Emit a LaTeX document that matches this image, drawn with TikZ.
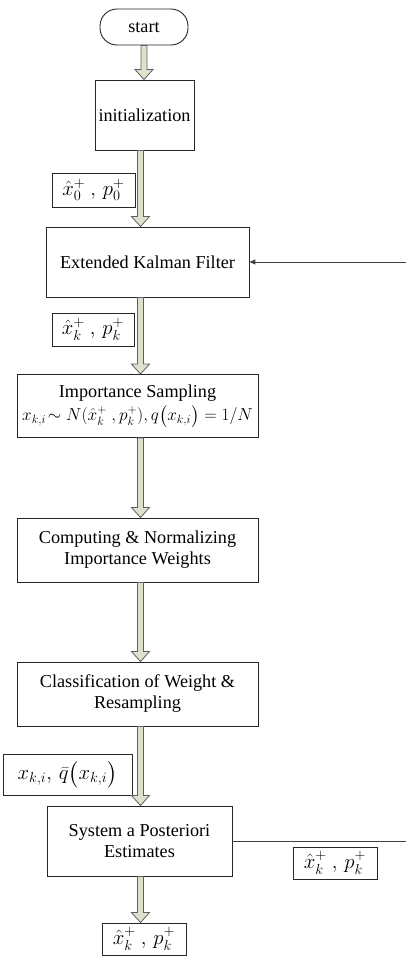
\documentclass[tikz,border=0pt]{standalone}
\usepackage{amsmath,amssymb}
\usepackage{fontspec}
\setmainfont{Liberation Serif}
\usepackage{xcolor}
\usepackage{tikz}
\usetikzlibrary{arrows.meta,calc}

\definecolor{arrfill}{RGB}{222,226,205}
\definecolor{arrline}{RGB}{95,95,95}

% wide block arrow between two points (tip at #2)
\newcommand{\flowarrow}[2]{%
  \draw[bigarr] ($(#1)+(-3,0)$) -- ($(#2)+(-3,-10)$) -- ($(#2)+(-9,-10)$) -- (#2)
    -- ($(#2)+(9,-10)$) -- ($(#2)+(3,-10)$) -- ($(#1)+(3,0)$) -- cycle;}

\begin{document}
\begin{tikzpicture}[x=1pt, y=-1pt,
  proc/.style={draw=black!85, line width=0.9pt, align=center, inner sep=0pt, font=\fontsize{18.2}{21}\selectfont},
  term/.style={proc, rounded corners=17pt},
  val/.style={draw=black!85, line width=0.9pt, inner sep=0pt, font=\fontsize{20.5}{24}\selectfont},
  bigarr/.style={draw=arrline, fill=arrfill, line width=0.8pt},
  fb/.style={draw=black!75, line width=1pt}
]
\useasboundingbox (0,0) rectangle (406,956);
\coordinate (axis) at (140.5,0);
\coordinate (fbturn) at (410,0);

\node[term, minimum width=88pt, minimum height=36pt] (start) at (144,27) {start};
\node[proc, minimum width=99pt, minimum height=70pt] (init) at (144.5,115) {initialization};
\node[proc, minimum width=203pt, minimum height=70pt] (ekf) at (147.5,262) {Extended Kalman Filter};
\node[proc, minimum width=241pt, minimum height=63pt, font=\fontsize{18.2}{23}\selectfont] (imp) at (137.5,406)
  {Importance Sampling\\ $x_{k,i}\!\sim N(\hat{x}_k^+\ ,p_k^+),q\big(x_{k,i}\big)=1/N$};
\node[proc, minimum width=241pt, minimum height=64pt] (comp) at (137.5,550)
  {Computing \& Normalizing\\ Importance Weights};
\node[proc, minimum width=241pt, minimum height=64pt] (cls) at (137.5,694)
  {Classification of Weight \&\\ Resampling};
\node[proc, minimum width=185pt, minimum height=70pt] (post) at (139.5,841)
  {System a Posteriori\\ Estimates};

\node[val, minimum width=83pt, minimum height=34pt] (v0) at (93.5,190) {$\hat{x}_0^+\ ,\,p_0^+$};
\node[val, minimum width=82pt, minimum height=33pt] (vk) at (93,329.5) {$\hat{x}_k^+\ ,\,p_k^+$};
\node[val, minimum width=129pt, minimum height=41pt, font=\fontsize{22}{26}\selectfont] (vq) at (67.5,774.5)
  {$x_{k,i},\,\bar{q}\big(x_{k,i}\big)$};
\node[val, minimum width=84pt, minimum height=32pt] (vfb) at (335,863) {$\hat{x}_k^+\ ,\,p_k^+$};
\node[val, minimum width=84pt, minimum height=32pt] (vout) at (144,939) {$\hat{x}_k^+\ ,\,p_k^+$};

\flowarrow{start.south}{start.south |- init.north}
\flowarrow{init.south -| axis}{ekf.north -| axis}
\flowarrow{ekf.south -| axis}{imp.north -| axis}
\flowarrow{imp.south -| axis}{comp.north -| axis}
\flowarrow{comp.south -| axis}{cls.north -| axis}
\flowarrow{cls.south -| axis}{post.north -| axis}
\flowarrow{post.south -| axis}{vout.north -| axis}

\draw[fb, -{Triangle[length=6pt,width=5pt]}] (post.east) -- (post.east -| fbturn) -- (ekf.east -| fbturn) -- (ekf.east);

\end{tikzpicture}
\end{document}
